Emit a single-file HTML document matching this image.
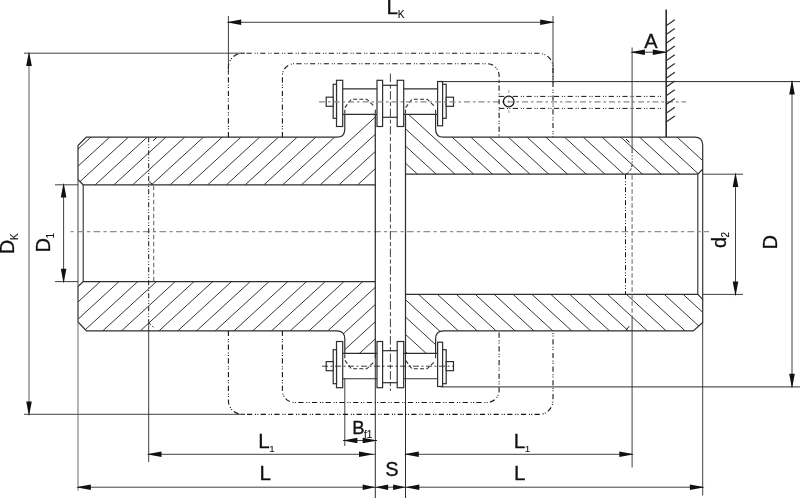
<!DOCTYPE html>
<html lang="en">
<head>
<meta charset="utf-8">
<title>Chain coupling dimensions</title>
<style>
html,body{margin:0;padding:0;background:#fff;}
body{width:800px;height:498px;overflow:hidden;}
svg{display:block;filter:grayscale(1);}
text{font-family:"Liberation Sans",Arial,Helvetica,sans-serif;fill:#111;stroke:#111;stroke-width:0.3px;}
tspan{stroke-width:0.1px;}
</style>
</head>
<body>
<svg width="800" height="498" viewBox="0 0 800 498">
<rect x="0" y="0" width="800" height="498" fill="#ffffff"/>
<defs>
<clipPath id="clu"><path d="M78.0,145.5 L86.3,137.2 L344,137.2 L369.0,114.3 L375.3,114.3 L375.3,184.8 L83.2,184.8 L78.0,179.8 Z"/></clipPath>
<clipPath id="cll"><path d="M78.0,322.59999999999997 L86.3,330.9 L336.8,330.9 Q344.8,330.9 344.8,338.9 L344.8,353.4 L375.3,353.4 L375.3,281.6 L83.2,281.6 L78.0,286.6 Z"/></clipPath>
<clipPath id="cru"><path d="M405.5,114.3 L417.5,114.3 L442.8,137.2 L690.7,137.2 L702.7,148.2 L702.7,169.2 L697.8,174.2 L405.5,174.2 Z"/></clipPath>
<clipPath id="crl"><path d="M405.5,353.4 L435.6,353.4 L435.6,338.9 Q435.6,330.9 443.6,330.9 L693.7,330.9 L702.7,321.9 L702.7,299.4 L697.8,294.4 L405.5,294.4 Z"/></clipPath>
</defs>
<g clip-path="url(#clu)" stroke="#2b2b2b" stroke-width="0.95">
<line x1="75.15" y1="100" x2="-22.95" y2="190"/>
<line x1="93.90" y1="100" x2="-4.20" y2="190"/>
<line x1="112.65" y1="100" x2="14.55" y2="190"/>
<line x1="131.40" y1="100" x2="33.30" y2="190"/>
<line x1="150.15" y1="100" x2="52.05" y2="190"/>
<line x1="168.90" y1="100" x2="70.80" y2="190"/>
<line x1="187.65" y1="100" x2="89.55" y2="190"/>
<line x1="206.40" y1="100" x2="108.30" y2="190"/>
<line x1="225.15" y1="100" x2="127.05" y2="190"/>
<line x1="243.90" y1="100" x2="145.80" y2="190"/>
<line x1="262.65" y1="100" x2="164.55" y2="190"/>
<line x1="281.40" y1="100" x2="183.30" y2="190"/>
<line x1="300.15" y1="100" x2="202.05" y2="190"/>
<line x1="318.90" y1="100" x2="220.80" y2="190"/>
<line x1="337.65" y1="100" x2="239.55" y2="190"/>
<line x1="356.40" y1="100" x2="258.30" y2="190"/>
<line x1="375.15" y1="100" x2="277.05" y2="190"/>
<line x1="393.90" y1="100" x2="295.80" y2="190"/>
<line x1="412.65" y1="100" x2="314.55" y2="190"/>
<line x1="431.40" y1="100" x2="333.30" y2="190"/>
<line x1="450.15" y1="100" x2="352.05" y2="190"/>
<line x1="468.90" y1="100" x2="370.80" y2="190"/>
</g>
<g clip-path="url(#cll)" stroke="#2b2b2b" stroke-width="0.95">
<line x1="88.66" y1="275" x2="-31.24" y2="385"/>
<line x1="107.41" y1="275" x2="-12.49" y2="385"/>
<line x1="126.16" y1="275" x2="6.26" y2="385"/>
<line x1="144.91" y1="275" x2="25.01" y2="385"/>
<line x1="163.66" y1="275" x2="43.76" y2="385"/>
<line x1="182.41" y1="275" x2="62.51" y2="385"/>
<line x1="201.16" y1="275" x2="81.26" y2="385"/>
<line x1="219.91" y1="275" x2="100.01" y2="385"/>
<line x1="238.66" y1="275" x2="118.76" y2="385"/>
<line x1="257.41" y1="275" x2="137.51" y2="385"/>
<line x1="276.16" y1="275" x2="156.26" y2="385"/>
<line x1="294.91" y1="275" x2="175.01" y2="385"/>
<line x1="313.66" y1="275" x2="193.76" y2="385"/>
<line x1="332.41" y1="275" x2="212.51" y2="385"/>
<line x1="351.16" y1="275" x2="231.26" y2="385"/>
<line x1="369.91" y1="275" x2="250.01" y2="385"/>
<line x1="388.66" y1="275" x2="268.76" y2="385"/>
<line x1="407.41" y1="275" x2="287.51" y2="385"/>
<line x1="426.16" y1="275" x2="306.26" y2="385"/>
<line x1="444.91" y1="275" x2="325.01" y2="385"/>
<line x1="463.66" y1="275" x2="343.76" y2="385"/>
<line x1="482.41" y1="275" x2="362.51" y2="385"/>
</g>
<g clip-path="url(#cru)" stroke="#2b2b2b" stroke-width="0.95">
<line x1="317.86" y1="100" x2="405.06" y2="180"/>
<line x1="336.61" y1="100" x2="423.81" y2="180"/>
<line x1="355.36" y1="100" x2="442.56" y2="180"/>
<line x1="374.11" y1="100" x2="461.31" y2="180"/>
<line x1="392.86" y1="100" x2="480.06" y2="180"/>
<line x1="411.61" y1="100" x2="498.81" y2="180"/>
<line x1="430.36" y1="100" x2="517.56" y2="180"/>
<line x1="449.11" y1="100" x2="536.31" y2="180"/>
<line x1="467.86" y1="100" x2="555.06" y2="180"/>
<line x1="486.61" y1="100" x2="573.81" y2="180"/>
<line x1="505.36" y1="100" x2="592.56" y2="180"/>
<line x1="524.11" y1="100" x2="611.31" y2="180"/>
<line x1="542.86" y1="100" x2="630.06" y2="180"/>
<line x1="561.61" y1="100" x2="648.81" y2="180"/>
<line x1="580.36" y1="100" x2="667.56" y2="180"/>
<line x1="599.11" y1="100" x2="686.31" y2="180"/>
<line x1="617.86" y1="100" x2="705.06" y2="180"/>
<line x1="636.61" y1="100" x2="723.81" y2="180"/>
<line x1="655.36" y1="100" x2="742.56" y2="180"/>
<line x1="674.11" y1="100" x2="761.31" y2="180"/>
<line x1="692.86" y1="100" x2="780.06" y2="180"/>
</g>
<g clip-path="url(#crl)" stroke="#2b2b2b" stroke-width="0.95">
<line x1="300.40" y1="290" x2="403.95" y2="385"/>
<line x1="319.30" y1="290" x2="422.85" y2="385"/>
<line x1="338.20" y1="290" x2="441.75" y2="385"/>
<line x1="357.10" y1="290" x2="460.65" y2="385"/>
<line x1="376.00" y1="290" x2="479.55" y2="385"/>
<line x1="394.90" y1="290" x2="498.45" y2="385"/>
<line x1="413.80" y1="290" x2="517.35" y2="385"/>
<line x1="432.70" y1="290" x2="536.25" y2="385"/>
<line x1="451.60" y1="290" x2="555.15" y2="385"/>
<line x1="470.50" y1="290" x2="574.05" y2="385"/>
<line x1="489.40" y1="290" x2="592.95" y2="385"/>
<line x1="508.30" y1="290" x2="611.85" y2="385"/>
<line x1="527.20" y1="290" x2="630.75" y2="385"/>
<line x1="546.10" y1="290" x2="649.65" y2="385"/>
<line x1="565.00" y1="290" x2="668.55" y2="385"/>
<line x1="583.90" y1="290" x2="687.45" y2="385"/>
<line x1="602.80" y1="290" x2="706.35" y2="385"/>
<line x1="621.70" y1="290" x2="725.25" y2="385"/>
<line x1="640.60" y1="290" x2="744.15" y2="385"/>
<line x1="659.50" y1="290" x2="763.05" y2="385"/>
<line x1="678.40" y1="290" x2="781.95" y2="385"/>
<line x1="697.30" y1="290" x2="800.85" y2="385"/>
</g>
<path d="M344.8,114.3 L344.8,129.2 Q344.8,137.2 336.8,137.2 L86.3,137.2 L78.0,145.5 L78.0,179.8 L83.2,184.8 L375.3,184.8" stroke="#2e2e2e" stroke-width="1.2" fill="none"/>
<path d="M344.8,353.4 L344.8,338.9 Q344.8,330.9 336.8,330.9 L86.5,330.9 L78.0,321.9 L78.0,286.6 L83.2,281.6 L375.3,281.6" stroke="#2e2e2e" stroke-width="1.2" fill="none"/>
<path d="M435.6,114.3 L435.6,129.2 Q435.6,137.2 443.6,137.2 L694.7,137.2 Q702.7,137.2 702.7,145.2 L702.7,169.2 L697.8,174.2 L405.5,174.2" stroke="#2e2e2e" stroke-width="1.2" fill="none"/>
<path d="M435.6,353.4 L435.6,338.9 Q435.6,330.9 443.6,330.9 L693.3000000000001,330.9 L702.7,322.5 L702.7,299.4 L697.8,294.4 L405.5,294.4" stroke="#2e2e2e" stroke-width="1.2" fill="none"/>
<line x1="83.2" y1="184.8" x2="83.2" y2="281.6" stroke="#2e2e2e" stroke-width="1.1"/>
<line x1="78.0" y1="179.8" x2="78.0" y2="286.6" stroke="#555" stroke-width="1.1"/>
<line x1="697.8" y1="174.2" x2="697.8" y2="294.4" stroke="#2e2e2e" stroke-width="1.1"/>
<line x1="702.7" y1="169.2" x2="702.7" y2="299.4" stroke="#2e2e2e" stroke-width="1.15"/>
<rect x="336.5" y="80.3" width="6.20" height="46.20" stroke="#2e2e2e" stroke-width="1.2" fill="#fff"/>
<rect x="377.0" y="80.3" width="5.60" height="46.20" stroke="#2e2e2e" stroke-width="1.2" fill="#fff"/>
<rect x="397.2" y="80.3" width="6.50" height="46.20" stroke="#2e2e2e" stroke-width="1.2" fill="#fff"/>
<rect x="437.6" y="81.5" width="5.00" height="44.30" stroke="#2e2e2e" stroke-width="1.2" fill="#fff"/>
<rect x="333.2" y="84.3" width="3.30" height="34.00" stroke="#2e2e2e" stroke-width="1.2" fill="#fff"/>
<rect x="442.6" y="84.3" width="3.60" height="34.00" stroke="#2e2e2e" stroke-width="1.2" fill="#fff"/>
<rect x="326.2" y="97.2" width="7.00" height="9.10" stroke="#2e2e2e" stroke-width="1.2" fill="#fff"/>
<rect x="446.2" y="97.2" width="7.30" height="9.10" stroke="#2e2e2e" stroke-width="1.2" fill="#fff"/>
<line x1="342.7" y1="88.9" x2="377.0" y2="88.9" stroke="#2e2e2e" stroke-width="1.1"/>
<line x1="342.7" y1="114.3" x2="377.0" y2="114.3" stroke="#2e2e2e" stroke-width="1.15"/>
<line x1="403.7" y1="88.9" x2="437.6" y2="88.9" stroke="#2e2e2e" stroke-width="1.1"/>
<line x1="403.7" y1="114.3" x2="437.6" y2="114.3" stroke="#2e2e2e" stroke-width="1.15"/>
<line x1="382.6" y1="85.3" x2="397.2" y2="85.3" stroke="#2e2e2e" stroke-width="1.2"/>
<line x1="382.6" y1="117.3" x2="397.2" y2="117.3" stroke="#2e2e2e" stroke-width="1.2"/>
<path d="M344.8,113.8 L344.8,107.8 L351.3,99.2 L366.8,99.2 L373.8,105.8" stroke="#2e2e2e" stroke-width="1.1" fill="none" stroke-dasharray="4 2.2"/>
<line x1="375.3" y1="113.8" x2="375.3" y2="109.8" stroke="#2e2e2e" stroke-width="1.1"/>
<path d="M405.5,113.8 L405.5,107.8 L412.0,99.2 L427.1,99.2 L434.1,105.8" stroke="#2e2e2e" stroke-width="1.1" fill="none" stroke-dasharray="4 2.2"/>
<line x1="435.6" y1="113.8" x2="435.6" y2="109.8" stroke="#2e2e2e" stroke-width="1.1"/>
<rect x="336.5" y="341.5" width="6.20" height="46.20" stroke="#2e2e2e" stroke-width="1.2" fill="#fff"/>
<rect x="377.0" y="341.5" width="5.60" height="46.20" stroke="#2e2e2e" stroke-width="1.2" fill="#fff"/>
<rect x="397.2" y="341.5" width="6.50" height="46.20" stroke="#2e2e2e" stroke-width="1.2" fill="#fff"/>
<rect x="437.6" y="342.2" width="5.00" height="44.30" stroke="#2e2e2e" stroke-width="1.2" fill="#fff"/>
<rect x="333.2" y="349.7" width="3.30" height="34.00" stroke="#2e2e2e" stroke-width="1.2" fill="#fff"/>
<rect x="442.6" y="349.7" width="3.60" height="34.00" stroke="#2e2e2e" stroke-width="1.2" fill="#fff"/>
<rect x="326.2" y="361.59999999999997" width="7.00" height="9.10" stroke="#2e2e2e" stroke-width="1.2" fill="#fff"/>
<rect x="446.2" y="361.59999999999997" width="7.30" height="9.10" stroke="#2e2e2e" stroke-width="1.2" fill="#fff"/>
<line x1="342.7" y1="378.7" x2="377.0" y2="378.7" stroke="#2e2e2e" stroke-width="1.1"/>
<line x1="342.7" y1="353.4" x2="377.0" y2="353.4" stroke="#2e2e2e" stroke-width="1.15"/>
<line x1="403.7" y1="378.7" x2="437.6" y2="378.7" stroke="#2e2e2e" stroke-width="1.1"/>
<line x1="403.7" y1="353.4" x2="437.6" y2="353.4" stroke="#2e2e2e" stroke-width="1.15"/>
<line x1="382.6" y1="382.7" x2="397.2" y2="382.7" stroke="#2e2e2e" stroke-width="1.2"/>
<line x1="382.6" y1="350.7" x2="397.2" y2="350.7" stroke="#2e2e2e" stroke-width="1.2"/>
<path d="M344.8,354.2 L344.8,360.2 L351.3,368.8 L366.8,368.8 L373.8,362.2" stroke="#2e2e2e" stroke-width="1.1" fill="none" stroke-dasharray="4 2.2"/>
<line x1="375.3" y1="354.2" x2="375.3" y2="358.2" stroke="#2e2e2e" stroke-width="1.1"/>
<path d="M405.5,354.2 L405.5,360.2 L412.0,368.8 L427.1,368.8 L434.1,362.2" stroke="#2e2e2e" stroke-width="1.1" fill="none" stroke-dasharray="4 2.2"/>
<line x1="435.6" y1="354.2" x2="435.6" y2="358.2" stroke="#2e2e2e" stroke-width="1.1"/>
<line x1="70.5" y1="231.6" x2="709" y2="231.6" stroke="#909090" stroke-width="1.35" stroke-dasharray="3.2 3.3 6.7 3.3"/>
<line x1="390.4" y1="73.6" x2="390.4" y2="391" stroke="#2b2b2b" stroke-width="0.9" stroke-dasharray="8.5 2.5 4 2.5"/>
<line x1="319" y1="101.8" x2="686" y2="101.8" stroke="#8a8a8a" stroke-width="1.3" stroke-dasharray="6 3 2.5 3"/>
<line x1="322" y1="366.2" x2="453" y2="366.2" stroke="#2b2b2b" stroke-width="0.9" stroke-dasharray="6 2.5 2 2.5"/>
<line x1="375.3" y1="114.3" x2="375.3" y2="353.4" stroke="#2e2e2e" stroke-width="1.25"/>
<line x1="405.5" y1="114.3" x2="405.5" y2="353.4" stroke="#2e2e2e" stroke-width="1.25"/>
<line x1="375.3" y1="353.4" x2="375.3" y2="498" stroke="#2b2b2b" stroke-width="1.0"/>
<line x1="405.5" y1="353.4" x2="405.5" y2="498" stroke="#2b2b2b" stroke-width="1.0"/>
<line x1="344.8" y1="378.4" x2="344.8" y2="446" stroke="#2b2b2b" stroke-width="0.9"/>
<path d="M228.4,137.2 L228.4,67.3 A14,14 0 0 1 242.4,53.3 L539,53.3 A14,14 0 0 1 553,67.3 L553,137.2" stroke="#161616" stroke-width="1.1" fill="none" stroke-dasharray="5.2 2.8 1 1.3 1 2.4"/>
<path d="M228.4,330.9 L228.4,400.4 A14,14 0 0 0 242.4,414.4 L539,414.4 A14,14 0 0 0 553,400.4 L553,330.9" stroke="#161616" stroke-width="1.1" fill="none" stroke-dasharray="5.2 2.8 1 1.3 1 2.4"/>
<path d="M282.4,137.2 L282.4,75.7 A12,12 0 0 1 294.4,63.7 L487.1,63.7 A12,12 0 0 1 499.1,75.7 L499.1,137.2" stroke="#161616" stroke-width="1.1" fill="none" stroke-dasharray="5.2 2.8 1 1.3 1 2.4"/>
<path d="M282.4,330.9 L282.4,390.5 A12,12 0 0 0 294.4,402.5 L487.1,402.5 A12,12 0 0 0 499.1,390.5 L499.1,330.9" stroke="#161616" stroke-width="1.1" fill="none" stroke-dasharray="5.2 2.8 1 1.3 1 2.4"/>
<circle cx="508.7" cy="101.5" r="5.3" fill="none" stroke="#151515" stroke-width="1.2"/>
<line x1="499.1" y1="96.4" x2="663" y2="96.4" stroke="#161616" stroke-width="1.0" stroke-dasharray="5.2 2.8 1 1.3 1 2.4"/>
<line x1="499.1" y1="108.4" x2="663" y2="108.4" stroke="#161616" stroke-width="1.0" stroke-dasharray="5.2 2.8 1 1.3 1 2.4"/>
<line x1="508.8" y1="90" x2="508.8" y2="114" stroke="#8a8a8a" stroke-width="0.8" stroke-dasharray="3 2"/>
<line x1="148.7" y1="137.2" x2="148.7" y2="322" stroke="#161616" stroke-width="1.0" stroke-dasharray="5 2.2 1 1.6 1 2.2"/>
<line x1="153.7" y1="185.8" x2="153.7" y2="281.6" stroke="#6e6e6e" stroke-width="1.1" stroke-dasharray="4.5 2.5"/>
<line x1="153.0" y1="140.8" x2="156.8" y2="137.4" stroke="#161616" stroke-width="1.0"/>
<line x1="149.0" y1="181.6" x2="152.8" y2="184.6" stroke="#161616" stroke-width="1.0"/>
<line x1="149.2" y1="323" x2="153.6" y2="327.4" stroke="#161616" stroke-width="1.0" stroke-dasharray="2.5 2"/>
<line x1="625.5" y1="174.2" x2="625.5" y2="294.4" stroke="#161616" stroke-width="1.0" stroke-dasharray="5 2.2 1 1.6 1 2.2"/>
<line x1="632.1" y1="175.2" x2="632.1" y2="317" stroke="#6e6e6e" stroke-width="1.1" stroke-dasharray="4.5 2.5"/>
<line x1="632.1" y1="152" x2="632.1" y2="165" stroke="#161616" stroke-width="1.0" stroke-dasharray="1.2 2"/>
<path d="M632.1,164 Q632.1,170.5 626,174" stroke="#161616" stroke-width="1.0" fill="none" stroke-dasharray="3 1.5"/>
<line x1="625.8" y1="330.3" x2="629.3" y2="326.2" stroke="#161616" stroke-width="1.0"/>
<line x1="626.0" y1="139.0" x2="629.5" y2="142.5" stroke="#161616" stroke-width="1.0"/>
<line x1="666.2" y1="9.5" x2="666.2" y2="137.2" stroke="#2e2e2e" stroke-width="1.6"/>
<line x1="666.2" y1="25.8" x2="674.8" y2="19.8" stroke="#2e2e2e" stroke-width="1.2"/>
<line x1="666.2" y1="34.55" x2="674.8" y2="28.549999999999997" stroke="#2e2e2e" stroke-width="1.2"/>
<line x1="666.2" y1="43.3" x2="674.8" y2="37.3" stroke="#2e2e2e" stroke-width="1.2"/>
<line x1="666.2" y1="52.05" x2="674.8" y2="46.05" stroke="#2e2e2e" stroke-width="1.2"/>
<line x1="666.2" y1="60.8" x2="674.8" y2="54.8" stroke="#2e2e2e" stroke-width="1.2"/>
<line x1="666.2" y1="69.55" x2="674.8" y2="63.55" stroke="#2e2e2e" stroke-width="1.2"/>
<line x1="666.2" y1="78.3" x2="674.8" y2="72.3" stroke="#2e2e2e" stroke-width="1.2"/>
<line x1="666.2" y1="87.05" x2="674.8" y2="81.05" stroke="#2e2e2e" stroke-width="1.2"/>
<line x1="666.2" y1="95.8" x2="674.8" y2="89.8" stroke="#2e2e2e" stroke-width="1.2"/>
<line x1="666.2" y1="104.55" x2="674.8" y2="98.55" stroke="#2e2e2e" stroke-width="1.2"/>
<line x1="666.2" y1="113.3" x2="674.8" y2="107.3" stroke="#2e2e2e" stroke-width="1.2"/>
<line x1="666.2" y1="122.05" x2="674.8" y2="116.05" stroke="#2e2e2e" stroke-width="1.2"/>
<line x1="228.4" y1="16" x2="228.4" y2="74" stroke="#2b2b2b" stroke-width="0.9"/>
<line x1="553" y1="16" x2="553" y2="83" stroke="#2b2b2b" stroke-width="0.9"/>
<line x1="228.4" y1="22.3" x2="553" y2="22.3" stroke="#2b2b2b" stroke-width="0.9"/>
<polygon points="226.40,22.30 241.20,19.50 241.20,25.10" fill="#111"/>
<polygon points="555.00,22.30 540.20,25.10 540.20,19.50" fill="#111"/>
<line x1="24" y1="53.2" x2="245" y2="53.2" stroke="#2b2b2b" stroke-width="0.9"/>
<line x1="24" y1="414.3" x2="245" y2="414.3" stroke="#2b2b2b" stroke-width="0.9"/>
<line x1="29" y1="53.2" x2="29" y2="414.3" stroke="#8a8a8a" stroke-width="1.4"/>
<polygon points="29.00,51.20 31.80,66.00 26.20,66.00" fill="#111"/>
<polygon points="29.00,416.30 26.20,401.50 31.80,401.50" fill="#111"/>
<line x1="55" y1="184.8" x2="78.0" y2="184.8" stroke="#2b2b2b" stroke-width="0.9"/>
<line x1="55" y1="281.6" x2="78.0" y2="281.6" stroke="#2b2b2b" stroke-width="0.9"/>
<line x1="63.6" y1="184.8" x2="63.6" y2="281.6" stroke="#2b2b2b" stroke-width="0.9"/>
<polygon points="63.60,182.80 66.40,197.60 60.80,197.60" fill="#111"/>
<polygon points="63.60,283.60 60.80,268.80 66.40,268.80" fill="#111"/>
<line x1="702.7" y1="174.2" x2="743" y2="174.2" stroke="#2b2b2b" stroke-width="0.9"/>
<line x1="702.7" y1="294.4" x2="743" y2="294.4" stroke="#2b2b2b" stroke-width="0.9"/>
<line x1="735.5" y1="174.2" x2="735.5" y2="294.4" stroke="#2b2b2b" stroke-width="0.9"/>
<polygon points="735.50,172.20 738.30,187.00 732.70,187.00" fill="#111"/>
<polygon points="735.50,296.40 732.70,281.60 738.30,281.60" fill="#111"/>
<line x1="439" y1="81.6" x2="800" y2="81.6" stroke="#2b2b2b" stroke-width="1.0"/>
<line x1="441" y1="386.9" x2="800" y2="386.9" stroke="#2b2b2b" stroke-width="1.0"/>
<line x1="792" y1="81.6" x2="792" y2="386.5" stroke="#2b2b2b" stroke-width="0.9"/>
<polygon points="792.00,79.60 794.80,94.40 789.20,94.40" fill="#111"/>
<polygon points="792.00,388.50 789.20,373.70 794.80,373.70" fill="#111"/>
<line x1="632.1" y1="47.5" x2="632.1" y2="152" stroke="#2b2b2b" stroke-width="0.9"/>
<line x1="632.1" y1="52.2" x2="666" y2="52.2" stroke="#2b2b2b" stroke-width="0.9"/>
<polygon points="630.10,52.20 644.90,49.40 644.90,55.00" fill="#111"/>
<polygon points="667.60,52.20 652.80,55.00 652.80,49.40" fill="#111"/>
<line x1="343" y1="440.5" x2="377" y2="440.5" stroke="#2b2b2b" stroke-width="0.9"/>
<polygon points="342.60,440.50 357.40,437.70 357.40,443.30" fill="#111"/>
<polygon points="377.50,440.50 362.70,443.30 362.70,437.70" fill="#111"/>
<line x1="148.7" y1="322" x2="148.7" y2="462" stroke="#2b2b2b" stroke-width="0.9"/>
<line x1="632.1" y1="317" x2="632.1" y2="467.5" stroke="#2b2b2b" stroke-width="0.9"/>
<line x1="148.7" y1="454.3" x2="375.3" y2="454.3" stroke="#2b2b2b" stroke-width="0.9"/>
<line x1="405.5" y1="454.3" x2="632.1" y2="454.3" stroke="#2b2b2b" stroke-width="0.9"/>
<polygon points="146.70,454.30 161.50,451.50 161.50,457.10" fill="#111"/>
<polygon points="373.80,454.30 359.00,457.10 359.00,451.50" fill="#111"/>
<polygon points="404.00,454.30 418.80,451.50 418.80,457.10" fill="#111"/>
<polygon points="634.10,454.30 619.30,457.10 619.30,451.50" fill="#111"/>
<line x1="78.0" y1="321.9" x2="78.0" y2="490.5" stroke="#6a6a6a" stroke-width="1.0"/>
<line x1="702.7" y1="322.5" x2="702.7" y2="495.5" stroke="#2b2b2b" stroke-width="0.9"/>
<line x1="78.0" y1="487.2" x2="702.7" y2="487.2" stroke="#2b2b2b" stroke-width="0.9"/>
<polygon points="76.00,487.20 90.80,484.40 90.80,490.00" fill="#111"/>
<polygon points="375.30,487.20 362.70,490.00 362.70,484.40" fill="#111"/>
<polygon points="375.30,487.20 388.10,484.40 388.10,490.00" fill="#111"/>
<polygon points="405.50,487.20 393.10,490.00 393.10,484.40" fill="#111"/>
<polygon points="405.50,487.20 419.30,484.40 419.30,490.00" fill="#111"/>
<polygon points="704.70,487.20 689.90,490.00 689.90,484.40" fill="#111"/>
<text x="386.6" y="13.6" font-size="20.6">L<tspan font-size="10.2" dy="4.5" dx="-0.3">K</tspan></text>
<text x="258.2" y="447.8" font-size="20.6">L<tspan font-size="9.8" dy="3.9" dx="-0.4">1</tspan></text>
<text x="513.8" y="447.8" font-size="20.6">L<tspan font-size="9.8" dy="3.9" dx="-0.4">1</tspan></text>
<text x="259.5" y="479.9" font-size="20.6" text-anchor="start">L</text>
<text x="513.9" y="479.9" font-size="20.6" text-anchor="start">L</text>
<text x="385.3" y="476.3" font-size="20" text-anchor="start">S</text>
<text x="644.3" y="47.6" font-size="20" text-anchor="start">A</text>
<text x="352.2" y="433.5" font-size="18.5">B<tspan font-size="10" dy="4.3" dx="-0.5">f1</tspan></text>
<text x="14.1" y="254.2" font-size="20" transform="rotate(-90 14.1 254.2)">D<tspan font-size="10" dy="4" dx="-0.3">K</tspan></text>
<text x="49.6" y="252.6" font-size="20" transform="rotate(-90 49.6 252.6)">D<tspan font-size="10" dy="4.2" dx="-0.3">1</tspan></text>
<text x="725.8" y="248" font-size="20" transform="rotate(-90 725.8 248)">d<tspan font-size="10" dy="3.6" dx="-0.6">2</tspan></text>
<text x="776.7" y="249.5" font-size="20" text-anchor="start" transform="rotate(-90 776.7 249.5)">D</text>
</svg>
</body>
</html>
